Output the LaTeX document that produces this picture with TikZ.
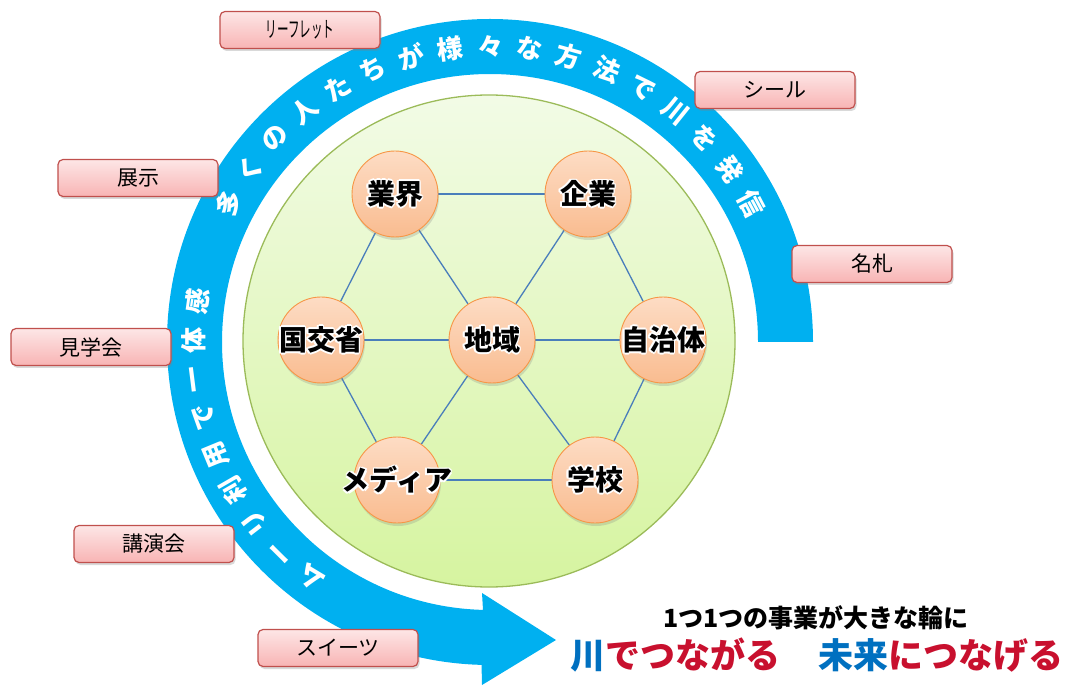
\documentclass[tikz,border=0pt]{standalone}
\usepackage{fontspec}
\setmainfont{Noto Sans CJK JP}
\usetikzlibrary{shadows,calc}
\definecolor{ringblue}{HTML}{00B0F0}
\definecolor{greenline}{HTML}{9BBB59}
\definecolor{greentop}{HTML}{F2FBE6}
\definecolor{greenbot}{HTML}{D6F4A0}
\definecolor{orgline}{HTML}{F79646}
\definecolor{orgtop}{HTML}{FDDCC4}
\definecolor{orgbot}{HTML}{F9BC90}
\definecolor{linkblue}{HTML}{4A7EBB}
\definecolor{boxline}{HTML}{C0504D}
\definecolor{boxtop}{HTML}{FDE6E6}
\definecolor{boxbot}{HTML}{F8B4B4}
\definecolor{kblue}{HTML}{0070C0}
\definecolor{kred}{HTML}{C8102E}
\pgfdeclarelayer{bg}
\pgfdeclarelayer{mid}
\pgfsetlayers{bg,mid,main}
\newcommand\gl[1]{\makebox[0pt][c]{\setbox0=\hbox{#1}%
 \rlap{\color{white}%
   \rlap{\kern1.7pt\copy0}\rlap{\kern-1.7pt\copy0}\rlap{\raise1.7pt\copy0}\rlap{\lower1.7pt\copy0}%
   \rlap{\kern1.2pt\raise1.2pt\copy0}\rlap{\kern-1.2pt\raise1.2pt\copy0}%
   \rlap{\kern1.2pt\lower1.2pt\copy0}\rlap{\kern-1.2pt\lower1.2pt\copy0}}%
 \copy0}}
\tikzset{
  ringtxt/.style={text=white, inner sep=0pt, font=\bfseries\fontsize{26}{28}\selectfont},
  org/.style={circle, minimum size=86pt, inner sep=0pt, draw=orgline, line width=0.9pt,
    top color=orgtop, bottom color=orgbot,
    drop shadow={opacity=0.25, shadow xshift=1pt, shadow yshift=-3pt},
    font=\bfseries\fontsize{28}{32}\selectfont},
  link/.style={draw=linkblue, line width=1.3pt},
  tag/.style={rectangle, rounded corners=5pt, minimum width=160pt, minimum height=37pt,
    inner sep=0pt, draw=boxline, line width=1.2pt, top color=boxtop, bottom color=boxbot,
    drop shadow={opacity=0.3, shadow xshift=1.5pt, shadow yshift=-2.5pt},
    font=\fontsize{21}{24}\selectfont}
}
\begin{document}
\begin{tikzpicture}[x=1pt,y=1pt]
\useasboundingbox (0,0) rectangle (1070,686);
\coordinate (C) at (490,344);
\begin{pgfonlayer}{bg}
\fill[ringblue] ($(C)+(0:323)$) arc[start angle=0,end angle=268.5,radius=323]
  -- (482,1) -- (556,46) -- (482,93) -- ($(C)+(268.5:268)$)
  arc[start angle=268.5,end angle=0,radius=268] -- cycle;
\foreach \ch [count=\i from 0] in {多,く,の,人,た,ち,が,様,々,な,方,法,で,川,を,発,信}{
  \pgfmathsetmacro\a{152-\i*7.75}
  \pgfmathsetmacro\r{\a-90}
  \node[ringtxt, rotate=\r] (ta\i) at ($(C)+(\a:296)$) {\ch};
}
\foreach \ch [count=\i from 0] in {ム,ー,リ,利,用,で,一,体,感}{
  \pgfmathsetmacro\a{232.8-\i*7.6}
  \pgfmathsetmacro\r{\a-90}
  \node[ringtxt, rotate=\r] (tb\i) at ($(C)+(\a:296)$) {\ch};
}
\node[circle, minimum size=492pt, inner sep=0pt, draw=greenline, line width=1.3pt,
  top color=greentop, bottom color=greenbot] (G) at (489,345) {};
\end{pgfonlayer}

\node[org] (gyokai) at (395,492) {\gl{業界}};
\node[org] (kigyo) at (588,492) {\gl{企業}};
\node[org] (kokko) at (321,346) {\gl{国交省}};
\node[org] (chiiki) at (492,346) {\gl{地域}};
\node[org] (jichi) at (663,346) {\gl{自治体}};
\node[org] (media) at (397,206) {\gl{メディア}};
\node[org] (gakko) at (595,206) {\gl{学校}};

\begin{pgfonlayer}{mid}
\draw[link] (gyokai) -- (kigyo);
\draw[link] (gyokai) -- (kokko);
\draw[link] (gyokai) -- (chiiki);
\draw[link] (kigyo) -- (chiiki);
\draw[link] (kigyo) -- (jichi);
\draw[link] (kokko) -- (chiiki);
\draw[link] (chiiki) -- (jichi);
\draw[link] (kokko) -- (media);
\draw[link] (chiiki) -- (media);
\draw[link] (chiiki) -- (gakko);
\draw[link] (jichi) -- (gakko);
\draw[link] (media) -- (gakko);
\end{pgfonlayer}

\node[tag] (leaf) at (300,656) {\scalebox{0.55}[1.05]{リーフレット}};
\node[tag] (tenji) at (138,508) {展示};
\node[tag] (seal) at (775,596) {シール};
\node[tag] (nafuda) at (872,422) {名札};
\node[tag] (kengaku) at (91,339) {見学会};
\node[tag] (koen) at (154,142) {講演会};
\node[tag] (sweets) at (338,38) {スイーツ};

\node[font=\bfseries\fontsize{25}{28}\selectfont, inner sep=0pt] (sub) at (816,68) {1つ1つの事業が大きな輪に};
\node[anchor=west, inner sep=0pt, font=\bfseries\fontsize{35}{40}\selectfont] (m1) at (570,31)
  {\textcolor{kblue}{川}\textcolor{kred}{でつながる}};
\node[anchor=east, inner sep=0pt, font=\bfseries\fontsize{35}{40}\selectfont] (m2) at (1064,31)
  {\textcolor{kblue}{未来}\textcolor{kred}{につなげる}};
\end{tikzpicture}
\end{document}
